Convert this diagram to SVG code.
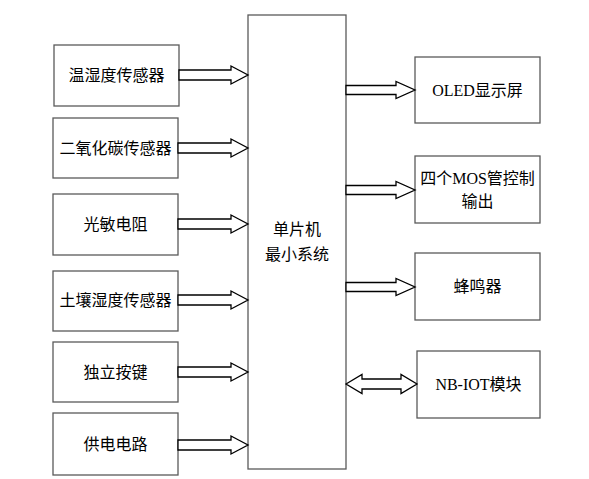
<svg xmlns="http://www.w3.org/2000/svg" width="589" height="479" viewBox="0 0 589 479">
<style>
.box{fill:#fff;stroke:#5a5a5a;stroke-width:1.3}
.arr{fill:#fff;stroke:#000;stroke-width:1.3;stroke-linejoin:miter}
text{font-family:"Liberation Serif","Noto Sans CJK SC",serif;font-size:16px;fill:#000;text-anchor:middle}
</style>
<rect width="589" height="479" fill="#fff"/>
<g id="mcu"><rect class="box" x="248" y="15" width="98" height="454"/><text x="297" y="235">单片机</text><text x="297" y="260">最小系统</text></g>
<g id="n1"><rect class="box" x="54" y="45" width="125" height="61"/><text x="116.5" y="81">温湿度传感器</text></g>
<g id="n2"><rect class="box" x="53" y="118" width="125" height="60"/><text x="115.5" y="154">二氧化碳传感器</text></g>
<g id="n3"><rect class="box" x="53" y="194" width="125" height="61"/><text x="115.5" y="230">光敏电阻</text></g>
<g id="n4"><rect class="box" x="53" y="271" width="125" height="60"/><text x="115.5" y="306">土壤湿度传感器</text></g>
<g id="n5"><rect class="box" x="53" y="342" width="125" height="60"/><text x="115.5" y="378">独立按键</text></g>
<g id="n6"><rect class="box" x="53" y="413" width="125" height="62"/><text x="115.5" y="450">供电电路</text></g>
<g id="r1"><rect class="box" x="415" y="57" width="125" height="66"/><text x="477.5" y="96">OLED显示屏</text></g>
<g id="r2"><rect class="box" x="415" y="156" width="125" height="67"/><text x="477.5" y="184">四个MOS管控制</text><text x="477.5" y="207">输出</text></g>
<g id="r3"><rect class="box" x="415" y="253" width="125" height="67"/><text x="477.5" y="292">蜂鸣器</text></g>
<g id="r4"><rect class="box" x="417" y="351" width="123" height="67"/><text x="478.5" y="390">NB-IOT模块</text></g>
<g id="connectors">
<polygon class="arr" points="179,70 231,70 231,66 248,75 231,84 231,80 179,80"/>
<polygon class="arr" points="178,143 231,143 231,139 248,148 231,157 231,153 178,153"/>
<polygon class="arr" points="178,219 231,219 231,215 248,224 231,233 231,229 178,229"/>
<polygon class="arr" points="178,295 231,295 231,291 248,300 231,309 231,305 178,305"/>
<polygon class="arr" points="178,367 231,367 231,363 248,372 231,381 231,377 178,377"/>
<polygon class="arr" points="178,440 231,440 231,436 248,445 231,454 231,450 178,450"/>
<polygon class="arr" points="346,85.5 396,85.5 396,81.5 415,90 396,98.5 396,94.5 346,94.5"/>
<polygon class="arr" points="346,185.5 396,185.5 396,181.5 415,190 396,198.5 396,194.5 346,194.5"/>
<polygon class="arr" points="346,282.5 396,282.5 396,278.5 415,287 396,295.5 396,291.5 346,291.5"/>
<polygon class="arr" points="346,384 362,374.5 362,379 401,379 401,374.5 417,384 401,393.5 401,389 362,389 362,393.5"/>
</g>
</svg>
